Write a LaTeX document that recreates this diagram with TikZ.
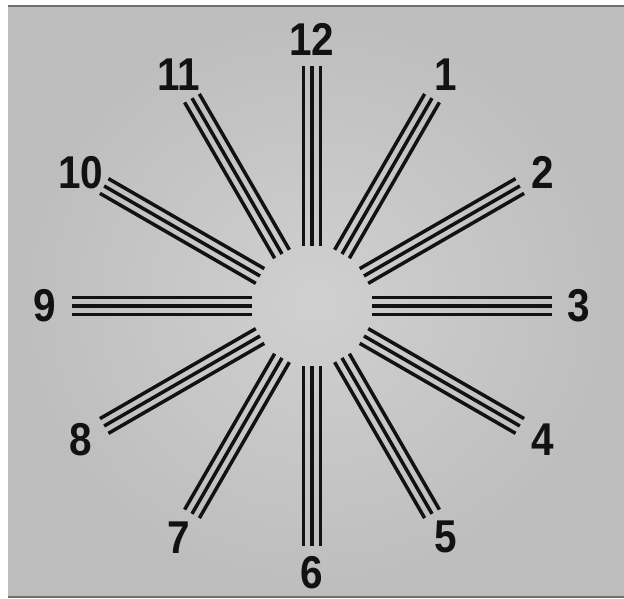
\documentclass[tikz,border=0pt]{standalone}
\usepackage{fontspec}
\usepackage{xcolor}
\usetikzlibrary{calc}
\newfontfamily\clockfont{Liberation Sans}[FakeStretch=0.88]
\definecolor{Paper}{HTML}{D0D0D0}
\definecolor{PaperEdge}{HTML}{BDBDBD}
\definecolor{Ink}{HTML}{121212}
\definecolor{Rim}{HTML}{707070}
\tikzset{
  spoke/.style={line width=3.5pt,Ink},
  hour/.style={font=\clockfont\bfseries\fontsize{46}{46}\selectfont,text=Ink,inner sep=0pt}
}

\begin{document}
\begin{tikzpicture}[x=1pt,y=1pt]
        \useasboundingbox (0,0) rectangle (624,599);
        \shade[inner color=Paper,outer color=PaperEdge] (8,2) rectangle (624,593);
        \draw[line width=1.5pt,Rim] (8,593)--(624,593);
        \draw[line width=1.5pt,Rim] (8,2)--(624,2);
        \coordinate (c) at (312,293);
        \foreach \h in {1,...,12}{
          \pgfmathsetmacro\a{90-30*\h}
          \foreach \d in {-8.5,0,8.5}
            \draw[spoke] ($(c)+(\a:60)+(\a+90:\d)$) -- ($(c)+(\a:240)+(\a+90:\d)$);
          \node[hour] (h\h) at ($(c)+(\a:267)$) {\h};
        }
      \end{tikzpicture}
\end{document}
